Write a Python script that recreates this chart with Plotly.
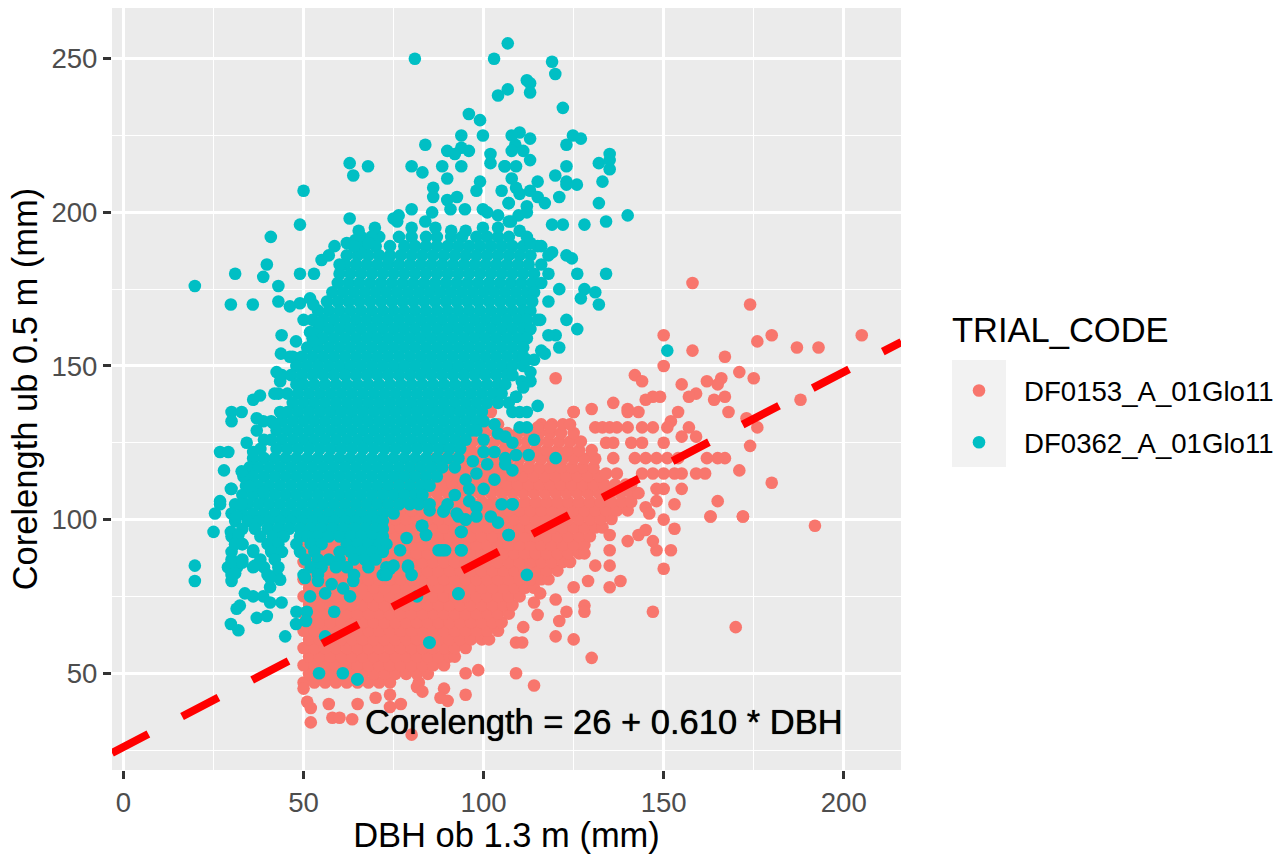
import plotly.graph_objects as go

TRIAL_NAMES = ["DF0153_A_01Glo11", "DF0362_A_01Glo11"]
X_TICKS = [0, 50, 100, 150, 200]
Y_TICKS = [50, 100, 150, 200, 250]
FIT_DBH = [-3.2, 216.0]
FIT_CORE = [24.05, 157.8]

# DF0153: dense band, as (corelength, [DBH values])
df0153_band = [
 (47.0,[50,53,56,59,62,65,68,71,74,82]),
 (49.8,[51.5,54.5,57.5,60.5,63.5,66.5,69.5,72.5,75.5,78.5,81.5,84.5]),
 (52.6,[50,53,56,59,62,65,68,71,74,77,80,83,86,89]),
 (55.4,[51.5,54.5,57.5,60.5,63.5,66.5,69.5,72.5,75.5,78.5,81.5,84.5,87.5,90.5,92]),
 (58.2,[50,53,56,59,62,65,68,71,74,77,80,83,86,89,92,95]),
 (61.0,[51.5,54.5,57.5,60.5,63.5,66.5,69.5,72.5,75.5,78.5,81.5,84.5,87.5,90.5,93.5,96.5,99.5,101.5]),
 (63.8,[50,53,56,59,62,65,68,71,74,77,80,83,86,89,92,95,98,101,104]),
 (66.6,[51.5,54.5,57.5,60.5,63.5,66.5,69.5,72.5,75.5,78.5,81.5,84.5,87.5,90.5,93.5,96.5,99.5,102.5,105]),
 (69.4,[50,53,56,59,62,65,68,71,74,77,80,83,86,89,92,95,98,101,104,107]),
 (72.2,[51.5,54.5,57.5,60.5,63.5,66.5,69.5,72.5,75.5,78.5,81.5,84.5,87.5,90.5,93.5,96.5,99.5,102.5,105.5,108]),
 (75.0,[50,53,56,59,62,65,68,71,74,77,80,83,86,89,92,95,98,101,104,107,110]),
 (77.8,[51.5,54.5,57.5,60.5,63.5,66.5,69.5,72.5,75.5,78.5,81.5,84.5,87.5,90.5,93.5,96.5,99.5,102.5,105.5,108.5,111.5,114]),
 (80.6,[50,53,56,59,62,65,68,71,74,77,80,83,86,89,92,95,98,101,104,107,110,113,116,118]),
 (83.4,[51.5,54.5,57.5,60.5,63.5,66.5,69.5,72.5,75.5,78.5,81.5,84.5,87.5,90.5,93.5,96.5,99.5,102.5,105.5,108.5,111.5,114.5,117.5,120.5]),
 (86.2,[50,53,56,59,62,65,68,71,74,77,80,83,86,89,92,95,98,101,104,107,110,113,116,119,122,124]),
 (89.0,[51.5,54.5,57.5,60.5,63.5,66.5,69.5,72.5,75.5,78.5,81.5,84.5,87.5,90.5,93.5,96.5,99.5,102.5,105.5,108.5,111.5,114.5,117.5,120.5,123.5,126.5,128]),
 (91.8,[50,53,56,59,62,65,68,71,74,77,80,83,86,89,92,95,98,101,104,107,110,113,116,119,122,125,128]),
 (94.6,[51.5,54.5,57.5,60.5,63.5,66.5,69.5,72.5,75.5,78.5,81.5,84.5,87.5,90.5,93.5,96.5,99.5,102.5,105.5,108.5,111.5,114.5,117.5,120.5,123.5,126.5,129.5]),
 (97.4,[50,53,56,59,62,65,68,71,74,77,80,83,86,89,92,95,98,101,104,107,110,113,116,119,122,125,128,131,133]),
 (100.2,[51.5,54.5,57.5,60.5,63.5,66.5,69.5,72.5,75.5,78.5,81.5,84.5,87.5,90.5,93.5,96.5,99.5,102.5,105.5,108.5,111.5,114.5,117.5,120.5,123.5,126.5,129.5,132.5,135.5]),
 (103.0,[53,56,59,62,65,68,71,74,77,80,83,86,89,92,95,98,101,104,107,110,113,116,119,122,125,128,131,134,137,140]),
 (105.8,[60,63,66,69.5,72.5,75.5,78.5,81.5,84.5,87.5,90.5,93.5,96.5,99.5,102.5,105.5,108.5,111.5,114.5,117.5,120.5,123.5,126.5,129.5,132.5,135.5,138.5,141]),
 (108.6,[72,75,78,81,84,87,90,93,96,99,102,105,108,111,114,117,120,123,126,129,132,135,138,141,143]),
 (111.4,[76,79.5,82.5,85.5,88.5,91.5,94.5,97.5,100.5,103.5,106.5,109.5,112.5,115.5,118.5,121.5,124.5,127.5,130.5,133.5,136.5,139.5,141]),
 (114.2,[78,81,84,87,90,93,96,99,102,105,108,111,114,117,120,123,126,129,132]),
 (117.0,[82,85.5,88.5,91.5,94.5,97.5,100.5,103.5,106.5,109.5,112.5,115.5,118.5,121.5,124.5,127.5,130.5]),
 (119.8,[86,89,92,95,98,101,104,107,110,113,116,119,122,125,128,131]),
 (122.6,[90,93.5,96.5,99.5,102.5,105.5,108.5,111.5,114.5,117.5,120.5,123.5,126.5,130]),
 (125.4,[94,97,100,103,106,109,112,115,118,121,124,127]),
 (128.2,[97,100.5,103.5,106.5,109.5,112.5,115.5,118.5,121.5,125]),
 (131.0,[100,104,116,119,122,124]),
 (135.0,[102,125]),
]

# DF0153: scattered outer points
df0153_dbh = [52,58,60,63.5,80,51,52,57,65,74,77,50,70,74,81.5,83,89,88,90,95,95,98.5,109,170,147,130,114,125,120,109,110.7,128,128,123,121,111,115,120,115.7,114,138,135,129,125,150,135,131,152,148,147,153,150,163,172,135,140,143,145,135,158,174,150,180,176,187,193,205,158,167,150,142,144,171,175,166,165,162,155,159,157,167,164,149,147,145,188,120,136,130,125,140,143,140,154,168,173,176,174,180,192,172,163,165,153,148,171,161.5,159,155,167,165,162,145,146,157,159,155,152,151,150,148,115,118.5,131,133,135,137,140,144,147,134,136,141,144,150,136,142,145,148,151,154,134,137,144,147,150,153,155]
df0153_core = [34,35.5,35.5,35,30,40.7,38.7,40,40,39,40,45,42,43,45.5,44,45,42,41,43,50,51,50,65,70,55,46,61,62,60,60,72,70,70,67,65,69,74,76,73,80,78,80,78,84,85,85,90,90,93,97,100,101,101,90,93,95,96.6,95,177,170,160,160,158,156,156,160,155,153,150,147,145,148,146,146,144,145,144,141,140,140,139,140,140,139,139,146,138,136,135,136,135,135,135,135,133,130,124,112,98,101,101,106,105,106,116,115,115,110,120,120,120,104,102,130,127,127,132,130,110,110,130,130,130,130,130,130,130,130,130,125,125,125,125,125,120,120,120,120,120,120,115,115,115,115,115,115,115]

# DF0362: dense body, as (corelength, [DBH values])
df0362_band = [
 (192,[66,71,76.5,80,84,87,91,94,98,101,104,107,112]),
 (189,[64,67,70,74,78,81,84,87,90,93,96,99,102,105,108,111,115]),
 (186,[62,65,68,71,74,77,80,83,86,89,92,95,98,101,104,107,110,113,118]),
 (183,[61.5,64.5,67.5,70.5,73.5,76.5,79.5,82.5,85.5,88.5,91.5,94.5,97.5,100.5,103.5,106.5,109.5,112.5,116]),
 (180,[60,63,66,69,72,75,78,81,84,87,90,93,96,99,102,105,108,111,114,118]),
 (177,[59.5,62.5,65.5,68.5,71.5,74.5,77.5,80.5,83.5,86.5,89.5,92.5,95.5,98.5,101.5,104.5,107.5,110.5,113.5,116]),
 (174,[58,61,64,67,70,73,76,79,82,85,88,91,94,97,100,103,106,109,112,114]),
 (171,[56.5,59.5,62.5,65.5,68.5,71.5,74.5,77.5,80.5,83.5,86.5,89.5,92.5,95.5,98.5,101.5,104.5,107.5,110.5,113.5]),
 (168,[54,57,60,63,66,69,72,75,78,81,84,87,90,93,96,99,102,105,108,111,113]),
 (165,[52.5,55.5,58.5,61.5,64.5,67.5,70.5,73.5,76.5,79.5,82.5,85.5,88.5,91.5,94.5,97.5,100.5,103.5,106.5,109.5,112]),
 (162,[54,57,60,63,66,69,72,75,78,81,84,87,90,93,96,99,102,105,108,111,113]),
 (159,[52.5,55.5,58.5,61.5,64.5,67.5,70.5,73.5,76.5,79.5,82.5,85.5,88.5,91.5,94.5,97.5,100.5,103.5,106.5,109.5,112]),
 (156,[51,54,57,60,63,66,69,72,75,78,81,84,87,90,93,96,99,102,105,108,111]),
 (153,[47,49.5,52.5,55.5,58.5,61.5,64.5,67.5,70.5,73.5,76.5,79.5,82.5,85.5,88.5,91.5,94.5,97.5,100.5,103.5,106.5,109.5,111]),
 (150,[48,51,54,57,60,63,66,69,72,75,78,81,84,87,90,93,96,99,102,105,108,111]),
 (147,[44,46.5,49.5,52.5,55.5,58.5,61.5,64.5,67.5,70.5,73.5,76.5,79.5,82.5,85.5,88.5,91.5,94.5,97.5,100.5,103.5,106.5,108]),
 (144,[48,50,53,56,59,62,65,68,71,74,77,80,83,86,89,92,95,98,101,104,106]),
 (141,[43,45.5,48.5,51.5,54.5,57.5,60.5,63.5,66.5,69.5,72.5,75.5,78.5,81.5,84.5,87.5,90.5,93.5,96.5,99.5,102.5,105]),
 (138,[47,50,53,56,59,62,65,68,71,74,77,80,83,86,89,92,95,98,101,104,107]),
 (135,[45.5,48.5,51.5,54.5,57.5,60.5,63.5,66.5,69.5,72.5,75.5,78.5,81.5,84.5,87.5,90.5,93.5,96.5,99.5,108]),
 (132,[41,44,47,50,53,56,59,62,65,68,71,74,77,80,83,86,89,92,95,98,100]),
 (129,[42.5,45.5,48.5,51.5,54.5,57.5,60.5,63.5,66.5,69.5,72.5,75.5,78.5,81.5,84.5,87.5,90.5,93.5,96.5,98]),
 (126,[39,41,44,47,50,53,56,59,62,65,68,71,74,77,80,83,86,89,92,95]),
 (123,[38,42.5,45.5,48.5,51.5,54.5,57.5,60.5,63.5,66.5,69.5,72.5,75.5,78.5,81.5,84.5,87.5,90.5,93.5]),
 (120,[36,39,42,45,48,51,54,57,60,63,66,69,72,75,78,81,84,87,90,93]),
 (117,[35,37.5,40.5,43.5,46.5,49.5,52.5,55.5,58.5,61.5,64.5,67.5,70.5,73.5,76.5,79.5,82.5,85.5,88.5,92]),
 (114,[34,36,39,42,45,48,51,54,57,60,63,66,69,72,75,78,81,84,87]),
 (111,[34,37.5,40.5,43.5,46.5,49.5,52.5,55.5,58.5,61.5,64.5,67.5,70.5,73.5,76.5,79.5,82.5,85]),
 (108,[33,36,39,42,45,48,51,54,57,60,63,66,69,72,75,78,81,83]),
 (105,[31,34.5,37.5,40.5,43.5,46.5,49.5,52.5,55.5,58.5,61.5,64.5,67.5,70.5,73.5,76.5,79.5,82]),
 (102,[30,33,36,39,42,45,48,51,54,57,60,63,66,69,72,75]),
 (99.5,[31,34.5,37.5,40.5,43.5,46.5,49.5,52.5,55.5,58.5,61.5,64.5,67.5,70.5,72]),
 (97,[33,36.5,40,43,46,49,52,55,58,61,64,67,70,72]),
 (94.5,[30,38,41.5,44.5,49,51,54,57,60,63,66,69,72]),
 (92,[31,33,40,43,48,52,55,62,65,68,71,73]),
 (89.5,[30,36,41,44,49,53,60,63,66,69,72]),
 (87,[30,33,38,42,50.5,54,57,60,64,67,70]),
 (84.5,[29,31.5,36,39,43,52,55,59,62,68,73,79]),
 (82,[30,40,42.5,50,54,64,72]),
]

# DF0362: scattered outer points
df0362_dbh = [80.9,102.9,106.7,106.7,104,95.9,99,93.8,99.8,83.8,89.9,92,93.8,95.9,101.9,101.9,105.9,80,83,88.5,93.8,89.9,86,86,99,98,105,62.8,67.9,63.8,50,49,40.9,62.8,89.9,92.6,80,94.8,99.8,101,104,107,75,76.4,76,85.7,90.8,69.8,68.8,65.3,64.4,62,58.6,65.8,73.6,80,83.8,86.6,91,95,99.8,104,107,119,119.9,112,112.9,112.9,122,124.8,127,123,110,107.8,112.9,108.8,107.8,111,112.9,105.8,109,123,119.9,123,123,125.9,115,107.8,109,112.9,110,115,117,121,106.9,112,112,109.7,107.6,119,122,128,132,134,140,133,135,135,135,132,110,113,116,119,123,124.5,134,126,121,128,131,127,132,118,115.7,123,126,120,121,117,112,151,115,110,112,114,113,110.6,109,120,112.5,109,106,108,108,105,112,93,85,65,81.5,107,93.7,93.7,87.5,89.3,83,84,78.6,76.8,74,72.6,79,80,98,98,93,95,102,104,108,85,89,19.8,19.8,25,25.4,26.8,30,29.8,32.8,31.4,31.9,31,33,30,33,30,31,36,36.5,33.7,36,38.8,32.3,31.4,29.8,31.9,37,39.8,40.7,43.9,40.7,43.5,40.7,44.9,48,50.9,47.9,50.7,51.8,50.4,54,56,57.8,61,63.8,62.9,58.5,56,54.3,60.9,64.9,84.9,93,73,75,88.4,93.9,93.9,84,82.8,106.9,96,92.5,95,88.8,85,19.8,31,39.8,38.8,49,52.9,55,43,29.8,35.9,43,46.2,49,51.8,52.7,50,54.6,43.9,47.9,51.8,52.7,43.7,46.2,42.5,43.5,41.9,36,37.9,30,32.8,30,37,38.8,37,43.5,41.6,34.2,26.8,29.1,36,27.9,33.3,35,29.8,32.8,38.8,26.8,115,118,116,114,113,111,109,112,110,108,104,103,100,106,101,98,95,100,103,92,96,90,103,106,100,97,57,60,64,68]
df0362_core = [250,250,255,240,238,232,230,225,225,222,220,219,221,220,219,216,215,215,213,215,215,211,208,205,210,207,207,216,215,212,207,196,192,198,204,205,201,201,201,200,199,203,198,199,197,200,201,195,192,194,191,190,189,187,185,195,197,195,194,194,195,195,197,249,245,243,242,239,234,225,224,222,226,225,224,222,220,220,217,215,215,215,212,210,209,209,210,211,208,207,206,205,203,205,203,202,200,199,197,196,196,196,203,197,199,210,219,217,214,216,194,190,189,187,186,185,180,180,175,175,174,172,170,171,165,165,162,160,156,154,152,155,137,135,130,126,145,145,140,120,121,121,120,116,105,105,82,76,60,48,75,95,96,90,90,90,98,95,94,90,84,82,85,82,104,101,101,100,101,99,105,103,103,85,80,96,102,105,110,96,105,101,95,92,92,86,86,80,82.5,90,85,76,75,75,72,71,66,64,68,68.6,73,73,78,80.4,81,62,70,70,66,67,75,81,80,76,79,77.6,80,75,70,62,50,50,48,60,75.8,82,85,90,90,96,95,98,95,110,102,100,102.6,105,176,180,183,179,180,180,184.5,176,170,170,171,169.4,170.4,172,170,165,164,160,158,161,158,154,153,148,145,141,139,140.4,135,135,132,133,132,129,135,131.4,125,122,122,122,116,114,110.8,110,115.7,109,106,165,160,155,152,148,143,140,135,130,125,128,122,126,118,118,115,113,110,113,108,106,105,131,127,122,119,186,183,189,190]

X_TITLE = "DBH ob 1.3 m (mm)"
Y_TITLE = "Corelength ub 0.5 m (mm)"
LEGEND_TITLE = "TRIAL_CODE"
EQUATION = "Corelength = 26 + 0.610 * DBH"
COLORS = ["#F8766D", "#00BFC4"]
FONT = "Liberation Sans"


def expand(band, extra_x, extra_y):
    xs, ys = [], []
    for core, dbhs in band:
        for d in dbhs:
            xs.append(d)
            ys.append(core)
    return xs + extra_x, ys + extra_y


x0, y0 = expand(df0153_band, df0153_dbh, df0153_core)
x1, y1 = expand(df0362_band, df0362_dbh, df0362_core)

fig = go.Figure()
for name, xs, ys, col, grp in [(TRIAL_NAMES[0], x0, y0, COLORS[0], "a"), (TRIAL_NAMES[1], x1, y1, COLORS[1], "b")]:
    fig.add_trace(go.Scatter(x=xs, y=ys, mode="markers", name=name, legendgroup=grp,
                             marker=dict(color=col, size=12.6, line=dict(width=0)), cliponaxis=True))
fig.add_trace(go.Scatter(x=FIT_DBH, y=FIT_CORE, mode="lines", showlegend=False,
                         line=dict(color="#FF0000", width=8, dash="41px,38px")))

axis_common = dict(showgrid=True, gridcolor="#FFFFFF", gridwidth=2.6, zeroline=False, showline=False,
                   ticks="outside", ticklen=8, tickwidth=2.6, tickcolor="#333333",
                   tickfont=dict(family=FONT, size=27.6, color="#4D4D4D"))
fig.update_layout(
    width=1288, height=854,
    margin=dict(l=112, r=387, t=8, b=84),
    paper_bgcolor="#FFFFFF", plot_bgcolor="#EBEBEB",
    font=dict(family=FONT, color="#000000"),
    xaxis=dict(range=[-3.2, 215.9], tickvals=X_TICKS, ticktext=[str(v) for v in X_TICKS],
               minor=dict(dtick=25, tick0=0, showgrid=True, gridcolor="#FFFFFF", gridwidth=1.3, ticks=""),
               title=dict(text=X_TITLE, font=dict(family=FONT, size=34.5, color="#000000"), standoff=3),
               **axis_common),
    yaxis=dict(range=[18.5, 266.5], tickvals=Y_TICKS, ticktext=[str(v) for v in Y_TICKS],
               minor=dict(dtick=25, tick0=0, showgrid=True, gridcolor="#FFFFFF", gridwidth=1.3, ticks=""),
               title=dict(text=Y_TITLE, font=dict(family=FONT, size=34.5, color="#000000"), standoff=3),
               **axis_common),
    legend=dict(x=(934 - 112) / 789, y=(770 - 366) / 762, xanchor="left", yanchor="top", bgcolor="rgba(0,0,0,0)",
                font=dict(family=FONT, size=27.6, color="#000000"),
                tracegroupgap=13, itemsizing="trace", itemwidth=80),
    shapes=[dict(type="rect", xref="paper", yref="paper", x0=(952 - 112) / 789, x1=(1006 - 112) / 789,
                 y0=(770 - 467) / 762, y1=(770 - 360) / 762, fillcolor="#F2F2F2", line=dict(width=0), layer="below")],
    annotations=[
        dict(x=133.5, y=34, xref="x", yref="y", text=EQUATION, showarrow=False,
             font=dict(family=FONT, size=34.5, color="#000000", shadow="0 0 0.8px #000000")),
        dict(x=(952 - 112) / 789, y=(770 - 330) / 762, xref="paper", yref="paper", xanchor="left", yanchor="middle",
             text=LEGEND_TITLE, showarrow=False, xshift=-2, font=dict(family=FONT, size=34.5, color="#000000")),
    ],
)
fig.write_html("out.html", config={"displayModeBar": False}, post_script="document.body.style.margin='0';")
